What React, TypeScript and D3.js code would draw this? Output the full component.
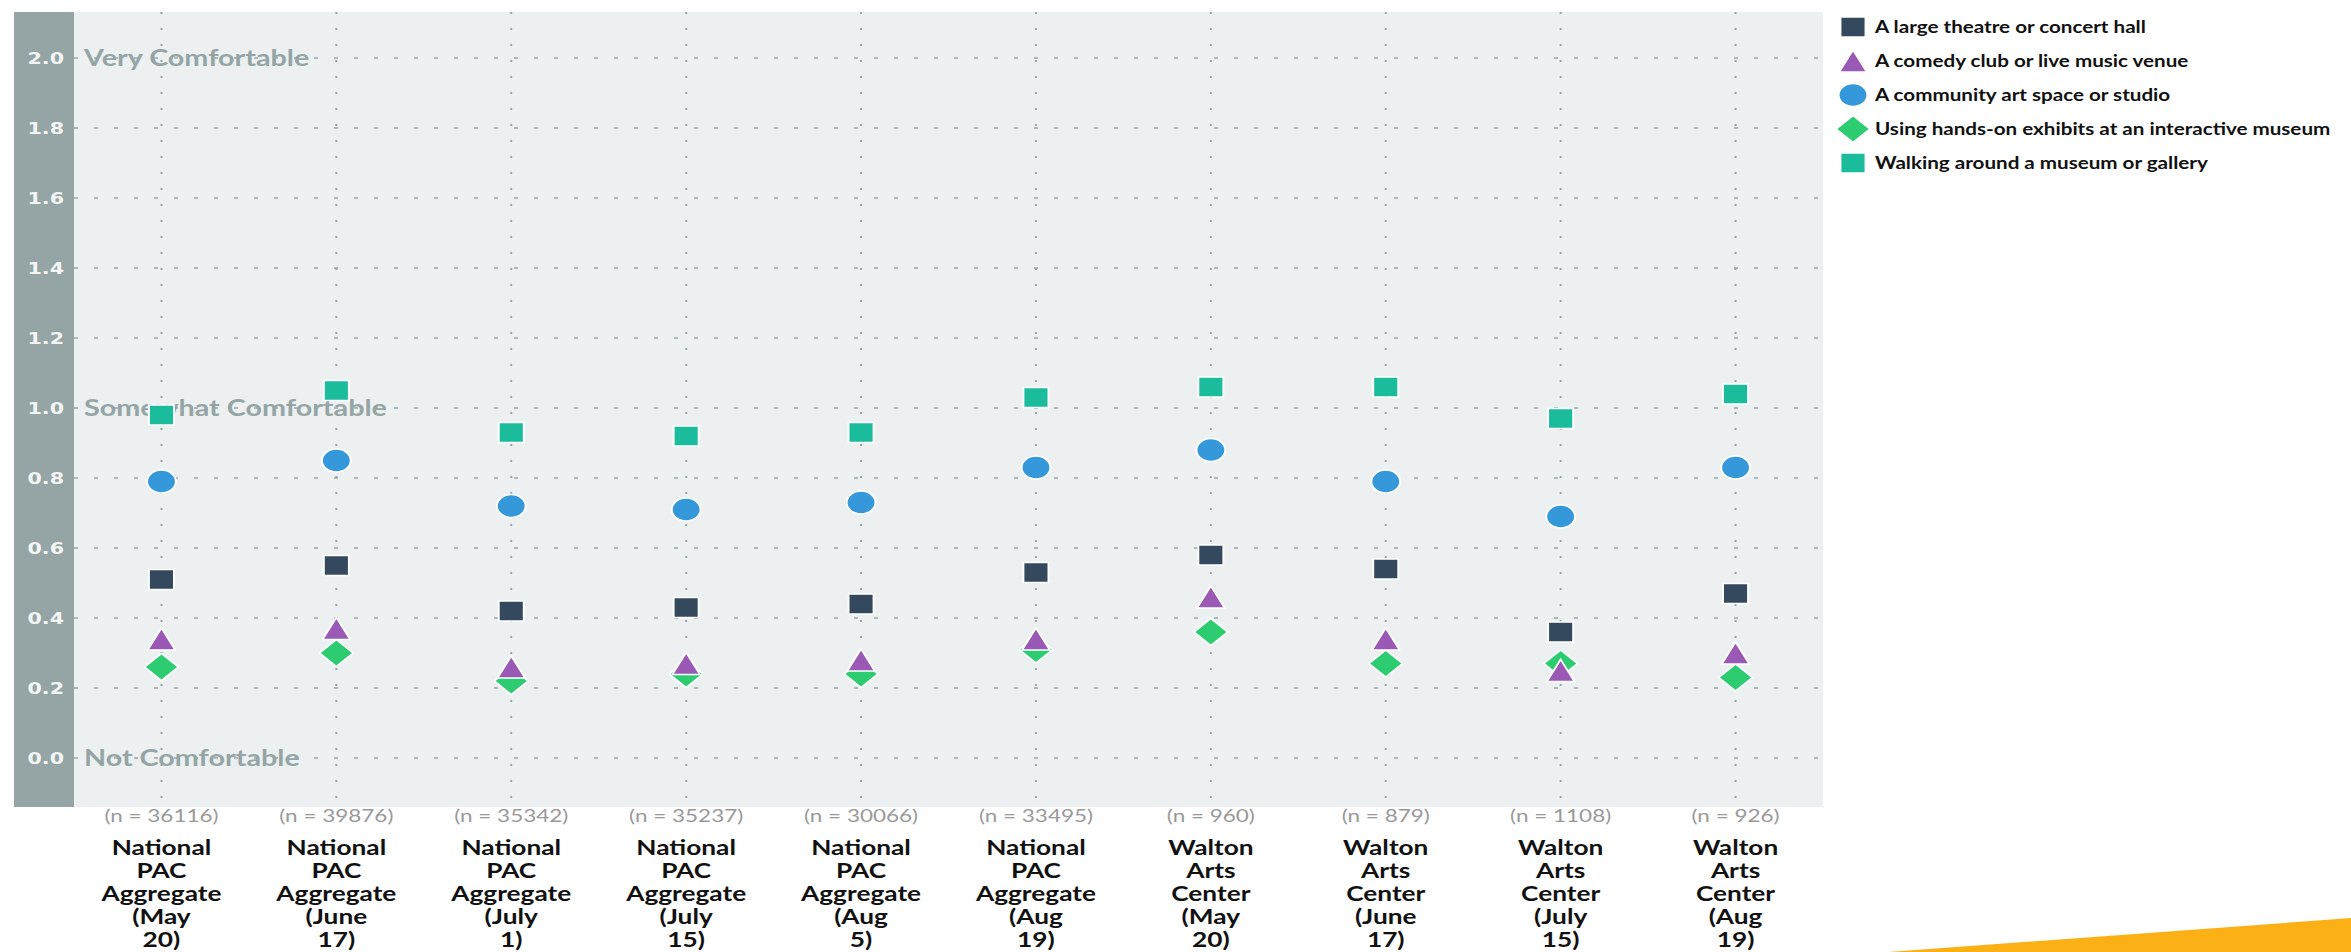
import React from "react";
import * as d3 from "d3";

const categories = [
  "National PAC Aggregate (May 20)",
  "National PAC Aggregate (June 17)",
  "National PAC Aggregate (July 1)",
  "National PAC Aggregate (July 15)",
  "National PAC Aggregate (Aug 5)",
  "National PAC Aggregate (Aug 19)",
  "Walton Arts Center (May 20)",
  "Walton Arts Center (June 17)",
  "Walton Arts Center (July 15)",
  "Walton Arts Center (Aug 19)",
];
const nCounts = [36116, 39876, 35342, 35237, 30066, 33495, 960, 879, 1108, 926];

const theatre = [0.51, 0.55, 0.42, 0.43, 0.44, 0.53, 0.58, 0.54, 0.36, 0.47];
const comedy = [0.34, 0.37, 0.26, 0.27, 0.28, 0.34, 0.46, 0.34, 0.25, 0.3];
const community = [0.79, 0.85, 0.72, 0.71, 0.73, 0.83, 0.88, 0.79, 0.69, 0.83];
const handsOn = [0.26, 0.3, 0.22, 0.24, 0.24, 0.31, 0.36, 0.27, 0.27, 0.23];
const walking = [0.98, 1.05, 0.93, 0.92, 0.93, 1.03, 1.06, 1.06, 0.97, 1.04];

const yTicks = [0, 0.2, 0.4, 0.6, 0.8, 1.0, 1.2, 1.4, 1.6, 1.8, 2.0];
const bandLabels = [
  { value: 2.0, text: "Very Comfortable" },
  { value: 1.0, text: "Somewhat Comfortable" },
  { value: 0.0, text: "Not Comfortable" },
];

type Shape = "square" | "triangle" | "circle" | "diamond";
const seriesList: { name: string; values: number[]; color: string; shape: Shape }[] = [
  { name: "A large theatre or concert hall", values: theatre, color: "#34495e", shape: "square" },
  { name: "A comedy club or live music venue", values: comedy, color: "#9b59b6", shape: "triangle" },
  { name: "A community art space or studio", values: community, color: "#3498db", shape: "circle" },
  { name: "Using hands-on exhibits at an interactive museum", values: handsOn, color: "#2ecc71", shape: "diamond" },
  { name: "Walking around a museum or gallery", values: walking, color: "#1abc9c", shape: "square" },
];
// draw order (diamond under triangle)
const drawOrder = [0, 3, 1, 2, 4];

const SX = 1.25; // horizontal stretch of the original image
const W = 2351;
const H = 952;
const plotLeft = 14;
const bandRight = 74;
const plotRight = 1823;
const plotTop = 12;
const plotBottom = 807;

function shapePath(shape: Shape): string {
  switch (shape) {
    case "square":
      return "M-10,-10H10V10H-10Z";
    case "circle":
      return d3.symbol().type(d3.symbolCircle).size(Math.PI * 11.5 * 11.5)() as string;
    case "diamond":
      return "M0,-13.5L13.5,0L0,13.5L-13.5,0Z";
    case "triangle":
      return "M0,-11L11,11H-11Z";
  }
}

export default function App() {
  const x = d3.scaleBand<string>().domain(categories).range([bandRight, plotRight]);
  const cx = (c: string) => (x(c) as number) + x.bandwidth() / 2;
  const y = d3.scaleLinear().domain([0, 2]).range([758, 58]);
  const fmt = d3.format(".1f");

  return (
    <svg width={W} height={H} style={{ position: "absolute", left: 0, top: 0 }}>
      <rect x={0} y={0} width={W} height={H} fill="#ffffff" />
      <rect x={plotLeft} y={plotTop} width={plotRight - plotLeft} height={plotBottom - plotTop} fill="#ecf0f1" />
      <rect x={plotLeft} y={plotTop} width={bandRight - plotLeft} height={plotBottom - plotTop} fill="#95a5a6" />

      {/* vertical gridlines */}
      {categories.map((c) => (
        <line
          key={"v" + c}
          x1={cx(c)}
          x2={cx(c)}
          y1={plotTop}
          y2={plotBottom}
          stroke="#95a5a6"
          strokeWidth={2}
          strokeDasharray="2,14"
        />
      ))}
      {/* horizontal gridlines */}
      {yTicks.map((t) => (
        <line
          key={"h" + t}
          x1={bandRight}
          x2={plotRight}
          y1={y(t)}
          y2={y(t)}
          stroke="#95a5a6"
          strokeWidth={1.5}
          strokeDasharray="4,16"
        />
      ))}

      {/* y tick labels */}
      {yTicks.map((t) => (
        <text
          key={"t" + t}
          transform={`translate(64,${y(t) + 6}) scale(${SX},1)`}
          textAnchor="end"
          fontFamily="DejaVu Sans"
          fontWeight="bold"
          fontSize={16.5}
          fill="#f4f6f6"
        >
          {fmt(t)}
        </text>
      ))}

      {/* comfort labels */}
      {bandLabels.map((b) => (
        <text
          key={b.text}
          transform={`translate(84,${y(b.value) + 8}) scale(${SX},1)`}
          fontFamily="Lato"
          fontWeight="bold"
          fontSize={23}
          fill="#95a5a6"
        >
          {b.text}
        </text>
      ))}

      {/* markers */}
      {drawOrder.map((si) => {
        const s = seriesList[si];
        const p = shapePath(s.shape);
        return (
          <g key={s.name}>
            {s.values.map((v, i) => (
              <path
                key={i}
                d={p}
                transform={`translate(${cx(categories[i])},${y(v)}) scale(${SX},1)`}
                fill={s.color}
                stroke="#ffffff"
                strokeWidth={1.5}
              />
            ))}
          </g>
        );
      })}

      {/* x labels */}
      {categories.map((c, i) => (
        <g key={"xl" + c}>
          <text
            transform={`translate(${cx(c)},822) scale(${SX},1)`}
            textAnchor="middle"
            fontFamily="Lato"
            fontSize={18}
            fill="#999999"
          >
            {`(n = ${nCounts[i]})`}
          </text>
          {c.split(" ").map((w, k) => (
            <text
              key={k}
              transform={`translate(${cx(c)},${855 + k * 23}) scale(${SX},1)`}
              textAnchor="middle"
              fontFamily="Lato"
              fontWeight="bold"
              fontSize={21}
              fill="#111111"
            >
              {w}
            </text>
          ))}
        </g>
      ))}

      {/* legend */}
      {seriesList.map((s, i) => {
        const ly = 27 + i * 34;
        return (
          <g key={"lg" + s.name}>
            <path
              d={shapePath(s.shape)}
              transform={`translate(1853,${ly}) scale(${SX},1)`}
              fill={s.color}
              stroke="#ffffff"
              strokeWidth={1.5}
            />
            <text
              transform={`translate(1875,${ly + 6}) scale(${SX},1)`}
              fontFamily="Lato"
              fontWeight="bold"
              fontSize={16.5}
              fill="#111111"
            >
              {s.name}
            </text>
          </g>
        );
      })}

      {/* decorative corner */}
      <polygon points={`1888,${H} ${W},918 ${W},${H}`} fill="#fbb116" />
    </svg>
  );
}
